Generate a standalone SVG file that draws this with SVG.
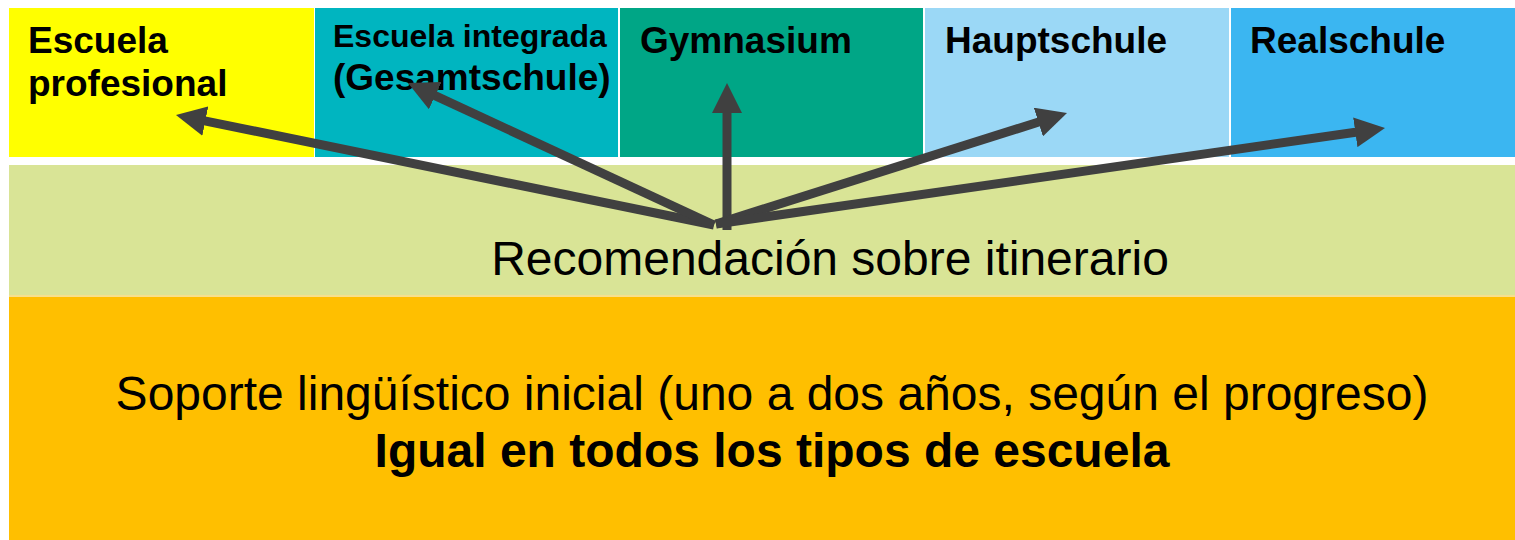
<svg xmlns="http://www.w3.org/2000/svg" width="1515" height="540" viewBox="0 0 1515 540">
  <style>
    .lbl { font-family: "Liberation Sans", Arial, sans-serif; font-weight: bold; font-size: 37px; fill: #000; }
    .big { font-family: "Liberation Sans", Arial, sans-serif; font-size: 48px; fill: #000; text-anchor: middle; }
    .bigb { font-weight: bold; }
    .arr { stroke: #404040; stroke-width: 9; fill: none; marker-end: url(#head); }
  </style>
  <defs>
    <marker id="head" markerUnits="userSpaceOnUse" markerWidth="30" markerHeight="30" refX="2" refY="15" orient="auto" viewBox="0 0 30 30">
      <path d="M0,0 L30,15 L0,30 Z" fill="#404040"/>
    </marker>
  </defs>
  <rect width="1515" height="540" fill="#FFFFFF"/>

  <g id="escuela-profesional">
    <rect x="9" y="8" width="305" height="149" fill="#FFFF00"/>
    <text class="lbl" x="28" y="53">Escuela</text>
    <text class="lbl" x="28" y="96">profesional</text>
  </g>
  <g id="gesamtschule">
    <rect x="315" y="8" width="303" height="149" fill="#00B5C0"/>
    <text class="lbl" x="333" y="47" style="font-size:32px">Escuela integrada</text>
    <text class="lbl" x="333" y="90">(Gesamtschule)</text>
  </g>
  <g id="gymnasium">
    <rect x="620" y="8" width="303" height="149" fill="#00A686"/>
    <text class="lbl" x="640" y="53">Gymnasium</text>
  </g>
  <g id="hauptschule">
    <rect x="925" y="8" width="304" height="149" fill="#9BD8F6"/>
    <text class="lbl" x="945" y="53">Hauptschule</text>
  </g>
  <g id="realschule">
    <rect x="1231" y="8" width="284" height="149" fill="#3BB6F1"/>
    <text class="lbl" x="1250" y="53">Realschule</text>
  </g>
  <g id="recomendacion">
    <rect x="9" y="165" width="1506" height="130" fill="#D9E496"/>
    <text class="big" x="830" y="275">Recomendación sobre itinerario</text>
  </g>
  <g id="soporte">
    <rect x="9" y="295" width="1506" height="2" fill="#F6E08C"/>
    <rect x="9" y="297" width="1506" height="243" fill="#FFBF00"/>
    <text class="big" x="772" y="410">Soporte lingüístico inicial (uno a dos años, según el progreso)</text>
    <text class="big bigb" x="772" y="467">Igual en todos los tipos de escuela</text>
  </g>

  <g id="connectors">
    <line class="arr" x1="714" y1="225" x2="203.4" y2="120.6"/>
    <line class="arr" x1="714" y1="225" x2="433.4" y2="94.8"/>
    <line class="arr" x1="727" y1="230" x2="727" y2="111"/>
    <line class="arr" x1="716" y1="224" x2="1040.3" y2="121.5"/>
    <line class="arr" x1="716" y1="224" x2="1357.3" y2="132"/>
  </g>
</svg>
